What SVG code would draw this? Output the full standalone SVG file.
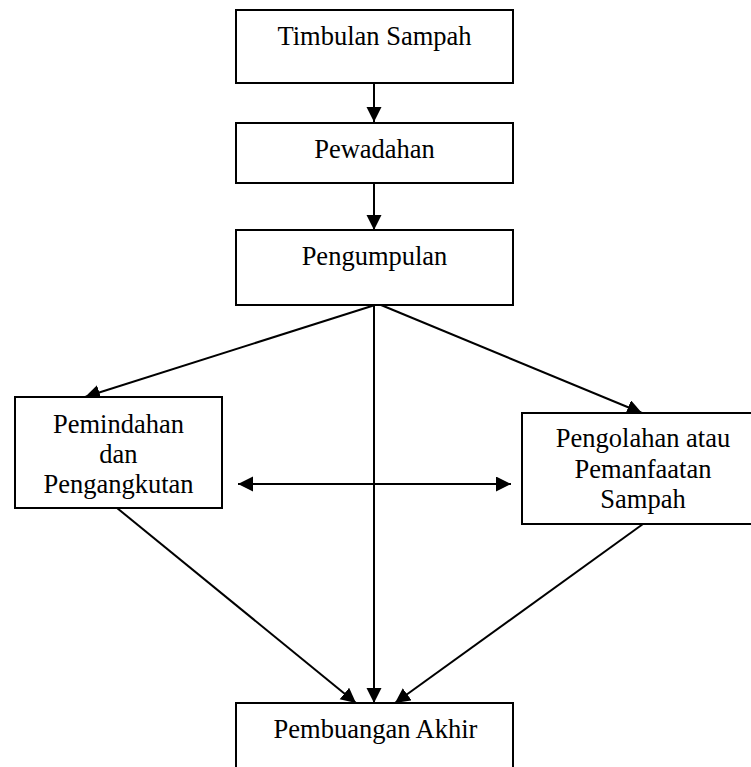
<svg xmlns="http://www.w3.org/2000/svg" width="751" height="767" viewBox="0 0 751 767">
<style>
.box{fill:#fff;stroke:#000;stroke-width:2}
.t{font-family:"Liberation Serif","Times New Roman",serif;font-size:26.5px;text-anchor:middle;fill:#000}
.c{stroke:#000;stroke-width:2;fill:none;marker-end:url(#ah)}
</style>
<defs>
<marker id="ah" markerUnits="userSpaceOnUse" markerWidth="16" markerHeight="16" refX="15" refY="7.5" orient="auto-start-reverse">
<path d="M0,0 L15,7.5 L0,15 z" fill="#000"/>
</marker>
</defs>
<rect width="751" height="767" fill="#fff"/>
<g id="connectors">
<line class="c" x1="374" y1="83" x2="374" y2="122"/>
<line class="c" x1="374" y1="183" x2="374" y2="230"/>
<line class="c" x1="375" y1="305" x2="85" y2="397"/>
<line class="c" x1="381" y1="305" x2="642" y2="413"/>
<line class="c" x1="374" y1="305" x2="374" y2="703"/>
<line class="c" x1="238" y1="484" x2="511" y2="484" style="marker-start:url(#ah)"/>
<line class="c" x1="117" y1="508" x2="356" y2="703"/>
<line class="c" x1="643" y1="524" x2="395" y2="703"/>
</g>
<g id="timbulan">
<rect class="box" x="236" y="10" width="277" height="73"/>
<text class="t" x="374.5" y="45">Timbulan Sampah</text>
</g>
<g id="pewadahan">
<rect class="box" x="236" y="123" width="277" height="60"/>
<text class="t" x="374.5" y="158">Pewadahan</text>
</g>
<g id="pengumpulan">
<rect class="box" x="236" y="230" width="277" height="75"/>
<text class="t" x="374.5" y="265">Pengumpulan</text>
</g>
<g id="pemindahan">
<rect class="box" x="15" y="397" width="207" height="111"/>
<text class="t" x="118.5" y="433">Pemindahan</text>
<text class="t" x="118.5" y="463">dan</text>
<text class="t" x="118.5" y="493">Pengangkutan</text>
</g>
<g id="pengolahan">
<rect class="box" x="522" y="413" width="245" height="111"/>
<text class="t" x="643" y="447">Pengolahan atau</text>
<text class="t" x="643" y="478">Pemanfaatan</text>
<text class="t" x="643" y="508">Sampah</text>
</g>
<g id="pembuangan">
<rect class="box" x="236" y="703" width="277" height="80"/>
<text class="t" x="375.5" y="738">Pembuangan Akhir</text>
</g>
</svg>
